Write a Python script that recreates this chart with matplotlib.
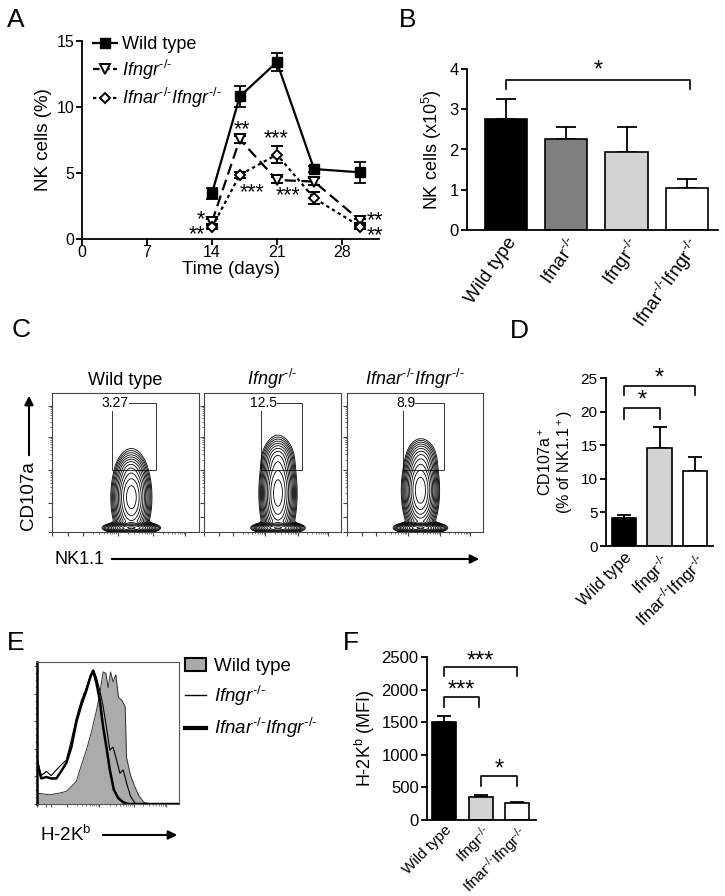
import numpy as np
import matplotlib
matplotlib.use("Agg")
import matplotlib.pyplot as plt
from matplotlib.lines import Line2D
from matplotlib.patches import Rectangle, Patch, FancyArrowPatch

plt.rcParams['font.family'] = ['Liberation Sans', 'DejaVu Sans']
plt.rcParams['mathtext.fontset'] = 'custom'
plt.rcParams['mathtext.rm'] = 'Liberation Sans'
plt.rcParams['mathtext.it'] = 'Liberation Sans:italic'
plt.rcParams['mathtext.bf'] = 'Liberation Sans:bold'
plt.rcParams['axes.linewidth'] = 1.3

KO = "\u2010/\u2010"  # "-/-" written with real hyphens

# ---------------- data ----------------
# Panel A: NK cells (%) over time
days = [14, 17, 21, 25, 30]
wt_pct = [3.45, 10.8, 13.4, 5.3, 5.05]
wt_pct_err = [0.4, 0.8, 0.7, 0.25, 0.78]
ifngr_pct = [1.3, 7.55, 4.47, 4.35, 1.39]
ifngr_pct_err = [0.2, 0.25, 0.2, 0.25, 0.15]
dko_pct = [0.89, 4.85, 6.4, 3.1, 0.93]
dko_pct_err = [0.15, 0.2, 0.68, 0.45, 0.15]

# Panel B: NK cell numbers (x10^5)
b_groups = ["Wild type", "Ifnar$^{" + KO + "}$", "Ifngr$^{" + KO + "}$",
            "Ifnar$^{" + KO + "}$Ifngr$^{" + KO + "}$"]
b_values = [2.77, 2.27, 1.95, 1.05]
b_err = [0.48, 0.30, 0.60, 0.22]

# Panel C: CD107a gate percentages
c_titles = ["Wild type", r"$\mathit{Ifngr^{" + KO + "}}$", r"$\mathit{Ifnar^{" + KO + "}Ifngr^{" + KO + "}}$"]
c_gate_pct = ["3.27", "12.5", "8.9"]

# Panel D: CD107a+ (% of NK1.1+)
d_groups = ["Wild type", "Ifngr$^{" + KO + "}$", "Ifnar$^{" + KO + "}$Ifngr$^{" + KO + "}$"]
d_values = [4.1, 14.6, 11.2]
d_err = [0.5, 3.05, 2.0]

# Panel E: H-2Kb histograms (x: % of channel range, y: % of mode)
e_wt_x = [0, 8.9, 16, 20.7, 24.2, 27.8, 31.3, 34.8, 38.4, 41.9, 44.2, 46.6, 48.5, 50.1,
          51.8, 53.6, 55.5, 57.4, 59.8, 62.1, 63.0, 65.9, 68.9, 72, 75.3, 79.5, 100]
e_wt_y = [7.7, 6.5, 7.7, 8.9, 12.4, 16, 27.6, 38, 51, 66, 78, 93, 92, 82,
          93, 86, 91, 75, 73, 68.5, 33, 20, 12, 5.4, 1.2, 0, 0]
e_ifngr_x = [0, 1.4, 3, 6.6, 10, 13.6, 17, 20.7, 24.2, 27.8, 31.3, 34.8, 37.6, 40, 41.9,
             44.2, 46.6, 48.9, 51.3, 53.6, 56, 58.4, 60.7, 63.1, 65.9, 68.9, 72.5, 100]
e_ifngr_y = [33, 26, 20, 23, 20, 24, 27.5, 31, 45, 61, 73, 82, 90.6, 94, 89,
             80, 68.5, 54, 38, 40, 31, 21.7, 24, 14.7, 5.4, 0.7, 0, 0]
e_dko_x = [0, 1.4, 3, 6.6, 10, 13.6, 17, 20.7, 24.2, 27.8, 31.3, 34.8, 37.6, 39.5,
           41.9, 44.2, 46.6, 48.9, 51.3, 54.1, 57.2, 60.7, 64.2, 100]
e_dko_y = [31, 24, 18, 19, 18, 18, 23, 29, 40, 58, 70, 80, 89.5, 94,
           85, 73, 54, 40, 24, 10, 4.2, 1.2, 0, 0]

# Panel F: H-2Kb MFI
f_groups = ["Wild type", "Ifngr$^{" + KO + "}$", "Ifnar$^{" + KO + "}$Ifngr$^{" + KO + "}$"]
f_values = [1508, 350, 265]
f_err = [87, 33, 10]

# ---------------- figure ----------------
W, H = 725, 896
fig = plt.figure(figsize=(W / 100, H / 100), dpi=100)


def ax_px(l, t, r, b):
    return fig.add_axes([l / W, 1 - b / H, (r - l) / W, (b - t) / H])


def prism(ax, fs=12):
    for s in ['top', 'right']:
        ax.spines[s].set_visible(False)
    ax.tick_params(direction='out', length=4.5, width=1.3, labelsize=fs, pad=1.5)


def letter(x, y, s):
    fig.text(x / W, 1 - y / H, s, fontsize=19, va='baseline', ha='left')


def star(ax, x, y, s, fs, ha='center', ls=1.2):
    # place asterisks so that the ink of the last line is centred on (x, y)
    ax.annotate(s, (x, y), xytext=(0, -0.37 * fs), textcoords='offset points',
                ha=ha, va='baseline', multialignment=ha if ha != 'center' else 'center',
                fontsize=fs, linespacing=ls, annotation_clip=False)


def bracket(ax, x0, x1, y, yleg, txt, ty, fs=17):
    ax.plot([x0, x0, x1, x1], [yleg, y, y, yleg], color='k', lw=1.2, clip_on=False)
    star(ax, (x0 + x1) / 2, ty, txt, fs)


def arrow(x0, y0, x1, y1):
    fig.add_artist(FancyArrowPatch((x0 / W, 1 - y0 / H), (x1 / W, 1 - y1 / H),
                                   transform=fig.transFigure, arrowstyle='-|>',
                                   mutation_scale=13, lw=1.5, color='k'))


# ----- Panel A -----
axA = ax_px(82, 41, 379, 239)
prism(axA, fs=11.5)
axA.tick_params(axis='x', pad=-0.5)
axA.tick_params(axis='y', pad=1)
axA.errorbar(days, wt_pct, yerr=wt_pct_err, color='k', lw=1.6, marker='s', ms=6.5,
             mfc='k', mec='k', capsize=4.5, elinewidth=1.3, capthick=1.3, zorder=3)
axA.errorbar(days, ifngr_pct, yerr=ifngr_pct_err, color='k', lw=1.6, ls=(0, (5, 2.5)),
             marker='v', ms=7.5, mfc='white', mec='k', mew=1.4, capsize=4.5,
             elinewidth=1.3, capthick=1.3, zorder=4)
axA.errorbar(days, dko_pct, yerr=dko_pct_err, color='k', lw=1.6, ls=(0, (1.5, 1.5)),
             marker='D', ms=5.5, mfc='white', mec='k', mew=1.4, capsize=4.5,
             elinewidth=1.3, capthick=1.3, zorder=5)
axA.set_xlim(0, 32)
axA.set_ylim(0, 15)
axA.set_xticks([0, 7, 14, 21, 28])
axA.set_yticks([0, 5, 10, 15])
axA.set_xlabel("Time (days)", fontsize=13.5, labelpad=1)
axA.set_ylabel("NK cells (%)", fontsize=13.5, labelpad=3)
hA = [Line2D([], [], color='k', lw=1.6, marker='s', ms=6.5, mfc='k'),
      Line2D([], [], color='k', lw=1.6, ls=(0, (3, 1.5)), marker='v', ms=7.5, mfc='white', mew=1.4),
      Line2D([], [], color='k', lw=1.6, ls=(0, (1.5, 1.5)), marker='D', ms=5.5, mfc='white', mew=1.4)]
axA.legend(hA, ["Wild type", r"$\mathit{Ifngr^{" + KO + "}}$",
                r"$\mathit{Ifnar^{" + KO + "}Ifngr^{" + KO + "}}$"],
           loc='upper left', bbox_to_anchor=(0.0, 1.08), frameon=False, fontsize=13,
           handlelength=1.35, handletextpad=0.25, labelspacing=0.25, borderaxespad=0.2)
starsA = [(17.2, 8.5, "**"), (18.3, 3.7, "***"), (20.9, 7.8, "***"), (22.2, 3.45, "***")]
for x, y, s in starsA:
    star(axA, x, y, s, 15.5)
# stacked stars next to day 14 and day 30 (anchored on the lower line)
star(axA, 13.3, 0.55, "*\n**", 15.5, ha='right', ls=0.6)
star(axA, 31.6, 0.46, "**\n**", 15.5, ha='center', ls=0.58)

# ----- Panel B -----
axB = ax_px(467, 69, 718, 230)
prism(axB, fs=12)
xb = np.arange(len(b_values))
axB.bar(xb, b_values, width=0.7, color=['k', '#7f7f7f', '#d4d4d4', 'white'],
        edgecolor='k', lw=1.2, zorder=2)
axB.errorbar(xb, b_values, yerr=[np.zeros(len(b_err)), b_err], fmt='none', ecolor='k',
             elinewidth=1.3, capsize=7, capthick=1.3, zorder=1)
axB.set_xlim(-0.65, 3.52)
axB.set_ylim(0, 4)
axB.set_yticks([0, 1, 2, 3, 4])
axB.set_xticks(xb)
axB.set_xticklabels(b_groups, rotation=55, ha='right', rotation_mode='anchor', fontsize=13.5)
axB.tick_params(axis='x', length=0, pad=3)
axB.set_ylabel(r"NK cells (x10$^5$)", fontsize=13, labelpad=4)
bracket(axB, 0, 3.05, 3.73, 3.5, "*", 4.02)

# ----- Panel C -----
c_boxes = [(52, 393, 199, 532), (204, 393, 341, 532), (347, 393, 483, 532)]
c_gates = [(0.41, 0.446, 0.30, 0.48), (0.414, 0.446, 0.304, 0.48), (0.41, 0.446, 0.305, 0.48)]
c_shapes = [
    [(0.54, 0.25, 0.048, 0.12, 1.0), (0.54, 0.03, 0.065, 0.015, 1.6), (0.53, 0.46, 0.04, 0.04, 0.05)],
    [(0.54, 0.28, 0.048, 0.14, 1.0), (0.54, 0.03, 0.065, 0.015, 1.6), (0.54, 0.53, 0.05, 0.06, 0.12)],
    [(0.54, 0.30, 0.048, 0.12, 1.0), (0.54, 0.03, 0.065, 0.015, 1.6), (0.55, 0.53, 0.05, 0.06, 0.08)],
]
gx = np.linspace(0, 1, 220)
GX, GY = np.meshgrid(gx, gx)
major_pos = [0.0, 0.11, 0.21, 0.446, 0.686, 0.906]
minor_pos = []
for a, b in zip(major_pos[2:-1], major_pos[3:]):
    minor_pos += [a + (b - a) * np.log10(k) for k in range(2, 10)]
for i, (l, t, r, b) in enumerate(c_boxes):
    ax = ax_px(l, t, r, b)
    Z = np.zeros_like(GX)
    for cx, cy, sx, sy, w in c_shapes[i]:
        Z += w * np.exp(-((GX - cx) ** 2 / (2 * sx ** 2) + (GY - cy) ** 2 / (2 * sy ** 2)))
    levels = np.geomspace(Z.max() * 0.008, Z.max() * 0.92, 14)
    ax.contour(GX, GY, Z, levels=levels, colors='k', linewidths=0.6)
    g = c_gates[i]
    ax.add_patch(Rectangle((g[0], g[1]), g[2], g[3], fill=False, lw=0.7, ec='#333333'))
    ax.text(g[0] + 0.02, g[1] + g[3], c_gate_pct[i], fontsize=10, ha='center', va='center',
            bbox=dict(fc='white', ec='none', pad=0.3))
    ax.set_xlim(0, 1)
    ax.set_ylim(0, 1)
    for s in ax.spines.values():
        s.set_linewidth(0.8)
        s.set_color('#444444')
    ax.set_xticks(major_pos)
    ax.set_yticks(major_pos)
    ax.set_xticks(minor_pos, minor=True)
    ax.set_yticks(minor_pos, minor=True)
    ax.tick_params(which='major', length=3, width=0.8, color='#444444', labelleft=False, labelbottom=False)
    ax.tick_params(which='minor', length=1.5, width=0.5, color='#444444')
    ax.set_title(c_titles[i], fontsize=13, pad=6)

fig.text(29 / W, 1 - 496 / H, "CD107a", rotation=90, fontsize=13.5, ha='center', va='center')
arrow(29, 458, 29, 393)
fig.text(55 / W, 1 - 559 / H, "NK1.1", fontsize=13, ha='left', va='center')
arrow(109, 559, 482, 559)

# ----- Panel D -----
axD = ax_px(606, 378, 713, 546)
prism(axD, fs=11)
xd = np.arange(len(d_values))
axD.bar(xd, d_values, width=0.68, color=['k', '#d4d4d4', 'white'], edgecolor='k', lw=1.2, zorder=2)
axD.errorbar(xd, d_values, yerr=[np.zeros(len(d_err)), d_err], fmt='none', ecolor='k',
             elinewidth=1.3, capsize=5, capthick=1.3, zorder=1)
axD.set_xlim(-0.51, 2.51)
axD.set_ylim(0, 25)
axD.set_yticks([0, 5, 10, 15, 20, 25])
axD.set_xticks(xd)
axD.set_xticklabels(d_groups, rotation=45, ha='right', rotation_mode='anchor', fontsize=12)
axD.tick_params(axis='x', length=0, pad=3)
axD.set_ylabel("CD107a$^+$\n(% of NK1.1$^+$)", fontsize=11.5, labelpad=4, linespacing=1.1)
bracket(axD, 0, 1, 20.5, 18.85, "*", 22.0)
bracket(axD, 0, 2, 23.8, 22.4, "*", 25.4)

# ----- Panel E -----
axE = ax_px(37, 662, 179, 804)
axE.fill_between(e_wt_x, e_wt_y, color='#ababab', lw=0, zorder=1)
axE.plot(e_wt_x, e_wt_y, color='#333333', lw=0.7, zorder=2)
axE.plot(e_ifngr_x, e_ifngr_y, color='k', lw=0.8, zorder=3)
axE.plot(e_dko_x, e_dko_y, color='k', lw=1.8, zorder=4)
axE.set_xlim(0, 100)
axE.set_ylim(0, 100)
for s in axE.spines.values():
    s.set_linewidth(0.8)
    s.set_color('#555555')
axE.spines['left'].set_linewidth(1.8)
axE.spines['left'].set_color('k')
axE.set_yticks([0, 19.4, 38.8, 58.2, 77.6, 97])
axE.set_xticks([0, 6.6, 10, 21, 44, 68, 91])
axE.set_yticks(np.arange(0, 100, 4.85), minor=True)
e_minor = []
for a, b in [(21, 44), (44, 68), (68, 91)]:
    e_minor += [a + (b - a) * np.log10(k) for k in range(2, 10)]
axE.set_xticks(e_minor, minor=True)
axE.tick_params(which='major', length=2.5, width=0.8, color='#555555', labelleft=False, labelbottom=False)
axE.tick_params(which='minor', length=1.3, width=0.5, color='#555555')
hE = [Patch(fc='#ababab', ec='k', lw=1.5), Line2D([], [], color='k', lw=1.0),
      Line2D([], [], color='k', lw=3.0)]
fig.legend(hE, ["Wild type", r"$\mathit{Ifngr^{" + KO + "}}$",
                r"$\mathit{Ifnar^{" + KO + "}Ifngr^{" + KO + "}}$"],
           loc='upper left', bbox_to_anchor=(168 / W, 1 - 641 / H), frameon=False, fontsize=13.5,
           handlelength=1.1, handleheight=0.7, handletextpad=0.45, labelspacing=0.45)
fig.text(40 / W, 1 - 835 / H, "H-2K$^\\mathregular{b}$", fontsize=13.5, ha='left', va='center')
arrow(100, 835, 180, 835)

# ----- Panel F -----
axF = ax_px(427, 657, 536, 820)
prism(axF, fs=12)
xf = np.arange(len(f_values))
axF.bar(xf, f_values, width=0.66, color=['k', '#d4d4d4', 'white'], edgecolor='k', lw=1.2, zorder=2)
axF.errorbar(xf, f_values, yerr=[np.zeros(len(f_err)), f_err], fmt='none', ecolor='k',
             elinewidth=1.3, capsize=5, capthick=1.3, zorder=1)
axF.set_xlim(-0.47, 2.52)
axF.set_ylim(0, 2500)
axF.set_yticks([0, 500, 1000, 1500, 2000, 2500])
axF.set_xticks(xf)
axF.set_xticklabels(f_groups, rotation=45, ha='right', rotation_mode='anchor', fontsize=11)
axF.tick_params(axis='x', length=0, pad=2)
axF.set_ylabel("H-2K$^\\mathregular{b}$ (MFI)", fontsize=13, labelpad=3)
bracket(axF, 0, 2, 2350, 2208, "***", 2480)
bracket(axF, 0, 0.95, 1890, 1738, "***", 2030)
bracket(axF, 1, 2, 675, 521, "*", 820)

# panel letters
letter(7, 27, "A")
letter(399, 27, "B")
letter(12, 337, "C")
letter(510, 338, "D")
letter(7, 650, "E")
letter(343, 650, "F")

fig.savefig("out.png", dpi=100)
